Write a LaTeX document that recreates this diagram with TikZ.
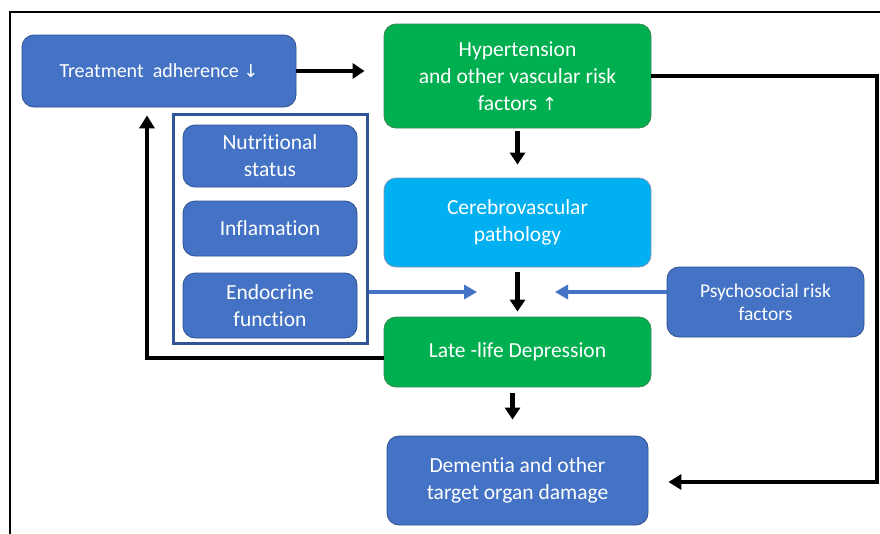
\documentclass[tikz,border=0pt]{standalone}
\usepackage{fontspec}
\setmainfont{Carlito}[Ligatures=NoCommon]
\newfontfamily\arrfont{DejaVu Sans}
\usetikzlibrary{arrows.meta}
\definecolor{myblue}{HTML}{4472C4}
\definecolor{mygreen}{HTML}{00B050}
\definecolor{mycyan}{HTML}{00B0F0}
\definecolor{edgeblue}{HTML}{2F528F}
\definecolor{edgegreen}{HTML}{3A8A4E}
\definecolor{grpblue}{HTML}{2F5597}
\begin{document}
\begin{tikzpicture}[x=1pt,y=-1pt,
  box/.style={rounded corners=12pt, text=white, align=center, inner sep=2pt,
    line width=0.8pt, font=\fontsize{21.5}{27}\selectfont},
  bluebox/.style={box, fill=myblue, draw=edgeblue},
  greenbox/.style={box, fill=mygreen, draw=edgegreen},
  cyanbox/.style={box, fill=mycyan, draw=edgeblue!60},
  blk/.style={line width=4.5pt, -{Triangle[length=12pt,width=15pt]}},
  bluearr/.style={draw=myblue, line width=4pt, -{Triangle[length=13pt,width=14pt]}},
  loopline/.style={line width=4.5pt, -{Triangle[length=13pt,width=15pt]}}
]
\useasboundingbox (0,0) rectangle (880,533);
\clip (0,0) rectangle (880,533);
\fill[white] (0,0) rectangle (880,533);
\draw[line width=2pt] (10,12) rectangle (900,560);

\node[bluebox, minimum width=274pt, minimum height=72pt, font=\fontsize{20}{25}\selectfont] (ta) at (159,71)
  {Treatment~ adherence {\arrfont\fontsize{18}{20}\selectfont ↓}};
\node[greenbox, minimum width=267pt, minimum height=104pt] (hyp) at (517.5,76)
  {Hypertension\\and other vascular risk\\factors {\arrfont\fontsize{18}{20}\selectfont ↑}};
\node[cyanbox, minimum width=267pt, minimum height=89pt] (cer) at (517.5,222.5)
  {Cerebrovascular\\pathology};
\node[greenbox, minimum width=267pt, minimum height=70pt] (lld) at (517.5,352)
  {Late -life Depression};
\node[bluebox, minimum width=261pt, minimum height=89pt] (dem) at (517.5,480.5)
  {Dementia and other\\target organ damage};
\node[bluebox, minimum width=197pt, minimum height=70pt, font=\fontsize{19.5}{23}\selectfont] (psy) at (765.5,302)
  {Psychosocial risk\\factors};

\node[draw=grpblue, line width=3pt, minimum width=194pt, minimum height=229pt, inner sep=0pt] (grp) at (270,228.5) {};
\node[bluebox, minimum width=174pt, minimum height=62pt] (nut) at (270,156) {Nutritional\\status};
\node[bluebox, minimum width=174pt, minimum height=55pt] (inf) at (270,228.5) {Inflamation};
\node[bluebox, minimum width=174pt, minimum height=65pt] (endo) at (270,305.5) {Endocrine\\function};

\coordinate (mid) at (516,292);
\coordinate (lc) at (147,358);
\coordinate (rc) at (877,482);

\draw[blk, shorten >=19pt] (ta.east) -- (ta.east -| hyp.west);
\draw[blk, shorten <=3pt, shorten >=13pt] (hyp.south) -- (cer.north);
\draw[blk, shorten <=5pt, shorten >=5pt] (cer.south) -- (lld.north);
\draw[blk, shorten <=6pt, shorten >=16pt] ([xshift=-5pt]lld.south) -- ([xshift=-5pt]dem.north);

\draw[bluearr, shorten >=39pt] (grp.east |- mid) -- (mid);
\draw[bluearr, shorten >=39pt] (psy.west |- mid) -- (mid);

\draw[loopline, shorten >=8pt] (lld.west |- lc) -| ([xshift=-12pt]ta.south);
\draw[loopline, shorten >=20pt] (hyp.east) -| (rc) -- (dem.east |- rc);
\end{tikzpicture}
\end{document}
